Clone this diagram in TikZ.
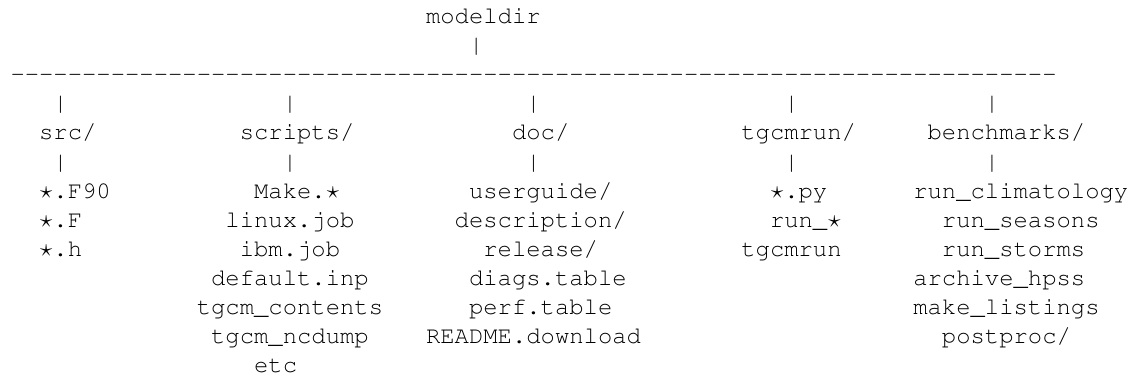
\documentclass[tikz,border=0pt]{standalone}
\usepackage[T1]{fontenc}

% one character cell of the monospaced grid
\newcommand\cellw{14.33}
\newcommand\rowh{29.1}
\newcommand\fstar{\makebox[0.6em][c]{$\star$}}

\tikzset{
  tt/.style={anchor=base west, inner sep=0pt, outer sep=0pt,
    font=\fontfamily{pcr}\fontseries{m}\fontshape{n}\fontsize{23.883}{29.1}\selectfont},
}
% \ent{name}{column}{row}{text}
\newcommand\ent[4]{\node[tt] (#1) at ({10.5+#2*\cellw},{-23.5-#3*\rowh}) {#4};}

\begin{document}
\begin{tikzpicture}[x=1pt,y=1pt]
\useasboundingbox (0,0) rectangle (1131,-377);

% root and the rule below it
\ent{modeldir}{29}{0}{modeldir}
\ent{rootbar}{32}{1}{|}
\ent{rule}{0}{2}{\foreach \i in {1,...,73}{-\kern0pt}}

% bars above the subdirectories
\ent{barA}{3}{3}{|}
\ent{barB}{19}{3}{|}
\ent{barC}{36}{3}{|}
\ent{barD}{54}{3}{|}
\ent{barE}{68}{3}{|}

% subdirectories
\ent{src}{2}{4}{src/}
\ent{scripts}{16}{4}{scripts/}
\ent{doc}{35}{4}{doc/}
\ent{tgcmrun}{51}{4}{tgcmrun/}
\ent{bench}{64}{4}{benchmarks/}

% bars below the subdirectories
\ent{subA}{3}{5}{|}
\ent{subB}{19}{5}{|}
\ent{subC}{36}{5}{|}
\ent{subD}{54}{5}{|}
\ent{subE}{68}{5}{|}

% src/
\ent{srcF90}{2}{6}{\fstar.F90}
\ent{srcF}{2}{7}{\fstar.F}
\ent{srch}{2}{8}{\fstar.h}

% scripts/
\ent{make}{17}{6}{Make.\fstar}
\ent{linux}{15}{7}{linux.job}
\ent{ibm}{16}{8}{ibm.job}
\ent{default}{14}{9}{default.inp}
\ent{contents}{13}{10}{tgcm\_contents}
\ent{ncdump}{14}{11}{tgcm\_ncdump}
\ent{etc}{17}{12}{etc}

% doc/
\ent{userguide}{32}{6}{userguide/}
\ent{description}{31}{7}{description/}
\ent{release}{33}{8}{release/}
\ent{diags}{32}{9}{diags.table}
\ent{perf}{32}{10}{perf.table}
\ent{readme}{29}{11}{README.download}

% tgcmrun/
\ent{py}{53}{6}{\fstar.py}
\ent{runstar}{53}{7}{run\_\fstar}
\ent{tgcmrunexe}{51}{8}{tgcmrun}

% benchmarks/
\ent{climatology}{63}{6}{run\_climatology}
\ent{seasons}{65}{7}{run\_seasons}
\ent{storms}{65}{8}{run\_storms}
\ent{archive}{63}{9}{archive\_hpss}
\ent{listings}{63}{10}{make\_listings}
\ent{postproc}{65}{11}{postproc/}
\end{tikzpicture}
\end{document}
